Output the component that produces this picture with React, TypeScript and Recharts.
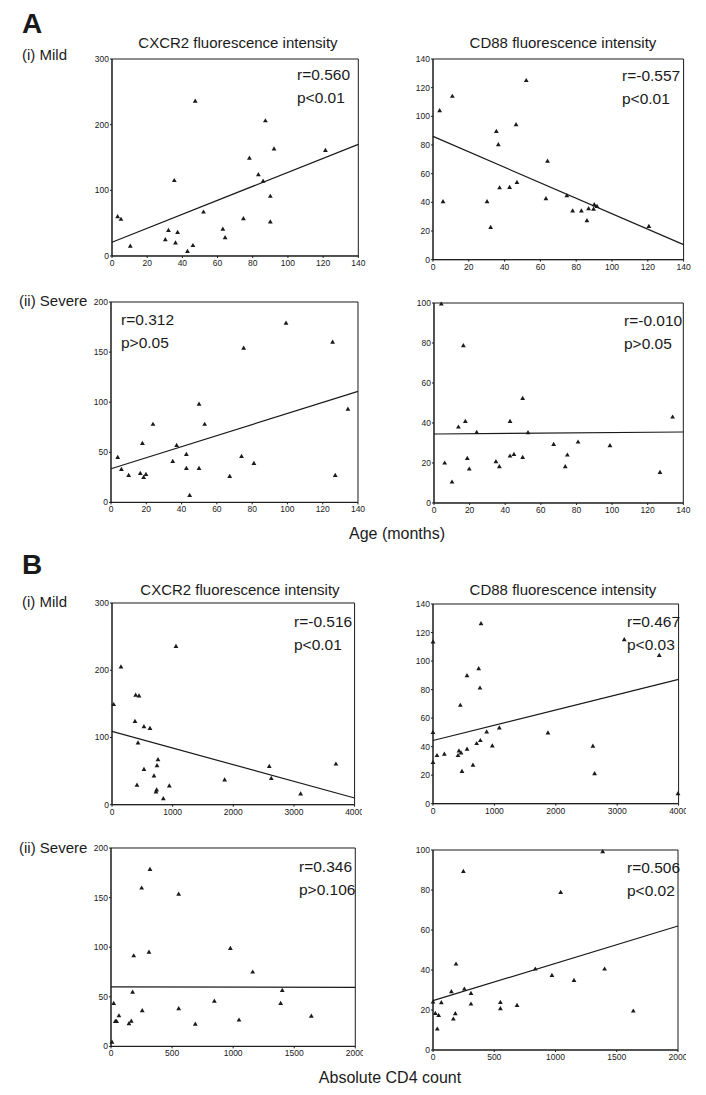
import React from 'react';
import { ScatterChart, Scatter, XAxis, YAxis, ReferenceArea, ReferenceLine } from 'recharts';

// tick labels
const AGE_TICKS = [0, 20, 40, 60, 80, 100, 120, 140];
const CD4_MILD_TICKS = [0, 1000, 2000, 3000, 4000];
const CD4_SEVERE_TICKS = [0, 500, 1000, 1500, 2000];
const CXCR2_MILD_TICKS = [0, 100, 200, 300];
const CXCR2_SEVERE_TICKS = [0, 50, 100, 150, 200];
const CD88_MILD_TICKS = [0, 20, 40, 60, 80, 100, 120, 140];
const CD88_SEVERE_TICKS = [0, 20, 40, 60, 80, 100];

// A (i) mild, age vs CXCR2
const ageMildCxcr2Age = [3.2, 5.1, 10.4, 30.3, 32.1, 35.4, 36.1, 37.3, 42.9, 46, 47.3, 52, 63, 64.3, 74.7, 78.1, 83.2, 85.9, 87.2, 90, 90, 92.1, 121.3];
const ageMildCxcr2Val = [60, 56, 15, 25, 39, 115, 20, 36, 7, 16, 236, 67, 41, 28, 57, 149, 124, 114, 206, 91, 52, 163, 161];
const ageMildCxcr2Fit = [21, 170];

// A (i) mild, age vs CD88
const ageMildCd88Age = [3.7, 5.6, 10.8, 30.2, 32.2, 35.4, 36.5, 37.2, 42.8, 46.4, 46.9, 52.1, 63.1, 64, 74.8, 78, 82.9, 86, 86.9, 89.7, 90.1, 91.6, 120.6];
const ageMildCd88Val = [104, 40.5, 114, 40.5, 22.6, 89.5, 80.2, 50.2, 50.5, 94.2, 54, 125, 42.6, 68.8, 44.7, 34, 34, 27.2, 35.6, 35.3, 38.4, 37.2, 23.3];
const ageMildCd88Fit = [86, 10.5];

// A (ii) severe, age vs CXCR2
const ageSevereCxcr2Age = [3.8, 5.9, 10, 16.6, 17.8, 18.5, 19.8, 23.8, 35, 37.2, 42.7, 42.7, 44.6, 49.9, 49.9, 53.1, 67.3, 74, 75.2, 81, 99.2, 125.6, 127.1, 134.3];
const ageSevereCxcr2Val = [45, 33, 27, 29, 59, 25, 28, 78, 41, 57, 48, 34, 7, 98, 34, 78, 26, 46, 154, 39, 179, 160, 27, 93];
const ageSevereCxcr2Fit = [33.6, 110.8];

// A (ii) severe, age vs CD88
const ageSevereCd88Age = [4.1, 6, 10.1, 13.7, 16.5, 17.6, 18.7, 19.8, 24, 34.8, 36.7, 42.7, 42.7, 44.9, 49.8, 49.8, 52.8, 67.2, 73.7, 74.9, 80.9, 98.8, 126.9, 134];
const ageSevereCd88Val = [99.5, 20, 10.5, 38, 78.7, 40.8, 22.3, 17, 35.3, 20.7, 18.2, 40.8, 23.5, 24.3, 52.3, 22.8, 35.2, 29.3, 18.2, 24, 30.5, 28.7, 15.3, 43];
const ageSevereCd88Fit = [34.5, 35.5];

// B (i) mild, CD4 count vs CXCR2
const cd4MildCxcr2Count = [27, 148, 379, 390, 445, 412, 429, 527, 527, 626, 692, 725, 736, 742, 758, 846, 945, 1055, 1857, 2593, 2626, 3110, 3692];
const cd4MildCxcr2Val = [149, 205, 124, 163, 162, 29, 92, 116, 52.5, 113.5, 43, 19, 22, 58, 67, 9, 28, 235.5, 37, 57, 39, 16, 60.5];
const cd4MildCxcr2Fit = [109, 10];

// B (i) mild, CD4 count vs CD88
const cd4MildCd88Count = [0, 0, 0, 65, 185, 407, 423, 456, 445, 472, 554, 554, 651, 711, 744, 765, 771, 782, 874, 966, 1080, 1872, 2605, 2632, 3115, 3685, 3990];
const cd4MildCd88Val = [113.5, 50, 29, 33.8, 34.7, 33.8, 37, 35.6, 69, 22.7, 89.8, 38.2, 27, 42.2, 94.7, 81.1, 44.3, 126.2, 50.4, 40.6, 53.2, 49.7, 40.3, 21.1, 115, 104, 7];
const cd4MildCd88Fit = [44.3, 87.2];

// B (ii) severe, CD4 count vs CXCR2
const cd4SevereCxcr2Count = [8, 22, 35, 46, 65, 147, 166, 177, 186, 251, 256, 311, 319, 554, 554, 690, 846, 977, 1048, 1160, 1389, 1402, 1640];
const cd4SevereCxcr2Val = [4.4, 43.4, 25.2, 25.2, 30.9, 22.9, 25.5, 54.8, 91.4, 159.7, 36, 95, 178.5, 153.6, 38, 22.5, 45.7, 98.8, 26.6, 75, 43.4, 56.5, 30.6];
const cd4SevereCxcr2Fit = [60, 59.5];

// B (ii) severe, CD4 count vs CD88
const cd4SevereCd88Count = [0, 19, 35, 46, 68, 150, 166, 182, 188, 248, 256, 310, 310, 550, 550, 686, 835, 971, 1042, 1151, 1385, 1401, 1635];
const cd4SevereCd88Val = [24, 18.3, 10.5, 17.3, 23.7, 29.2, 15.5, 18.2, 43, 89.3, 30.5, 28.3, 23, 23.8, 20.7, 22.3, 40.5, 37.3, 78.8, 34.8, 99.2, 40.5, 19.5];
const cd4SevereCd88Fit = [24.7, 62];

const FONT = '"Liberation Sans", Arial, Helvetica, sans-serif';
const INK = '#1a1a1a';
const YW = 30;
const MT = 8;
const MR = 8;
const XH = 20;

// small filled triangle marker, like the original SPSS plots
const Tri = (props: any) => {
  const { cx, cy } = props;
  if (cx == null || cy == null) return <g />;
  return <path d={`M${cx},${cy - 2.6}L${cx + 2.4},${cy + 1.6}L${cx - 2.4},${cy + 1.6}Z`} fill={INK} />;
};

type PanelProps = {
  box: [number, number, number, number]; // left, top, right, bottom of plot area
  xs: number[];
  ys: number[];
  xTicks: number[];
  yTicks: number[];
  fit: number[];
  r: string;
  p: string;
  statsAt: [number, number];
};

function Panel({ box, xs, ys, xTicks, yTicks, fit, r, p, statsAt }: PanelProps) {
  const [l, t, rr, b] = box;
  const xMax = xTicks[xTicks.length - 1];
  const yMax = yTicks[yTicks.length - 1];
  const data = xs.map((x, i) => ({ x, y: ys[i] }));
  const tick = { fontSize: 8.5, fill: INK, fontFamily: FONT };
  return (
    <>
      <div style={{ position: 'absolute', left: l - YW, top: t - MT }}>
        <ScatterChart
          width={rr - l + YW + MR}
          height={b - t + MT + XH}
          margin={{ top: MT, right: MR, bottom: 0, left: 0 }}
        >
          <XAxis
            type="number"
            dataKey="x"
            domain={[0, xMax]}
            ticks={xTicks}
            interval={0}
            height={XH}
            tick={tick}
            tickSize={2}
            tickMargin={2}
            stroke={INK}
          />
          <YAxis
            type="number"
            dataKey="y"
            domain={[0, yMax]}
            ticks={yTicks}
            interval={0}
            width={YW}
            tick={tick}
            tickSize={2}
            tickMargin={1}
            stroke={INK}
          />
          <ReferenceArea x1={0} x2={xMax} y1={0} y2={yMax} fill="none" stroke={INK} strokeWidth={1} />
          <ReferenceLine
            segment={[{ x: 0, y: fit[0] }, { x: xMax, y: fit[1] }]}
            stroke={INK}
            strokeWidth={1.2}
          />
          <Scatter data={data} shape={Tri} fill={INK} isAnimationActive={false} />
        </ScatterChart>
      </div>
      <div style={{ ...statStyle, left: statsAt[0], top: statsAt[1] - 9 }}>{r}</div>
      <div style={{ ...statStyle, left: statsAt[0], top: statsAt[1] + 14 }}>{p}</div>
    </>
  );
}

const statStyle: React.CSSProperties = {
  position: 'absolute',
  fontFamily: FONT,
  fontSize: 15.5,
  lineHeight: '18px',
  color: INK,
  whiteSpace: 'nowrap',
};

function Label({ x, y, size, bold, center, children }: { x: number; y: number; size: number; bold?: boolean; center?: boolean; children: React.ReactNode }) {
  return (
    <div
      style={{
        position: 'absolute',
        left: center ? x - 200 : x,
        width: center ? 400 : undefined,
        textAlign: center ? 'center' : 'left',
        top: y - size * 0.6,
        height: size * 1.2,
        lineHeight: `${size * 1.2}px`,
        fontFamily: FONT,
        fontSize: size,
        fontWeight: bold ? 'bold' : 'normal',
        color: INK,
        whiteSpace: 'nowrap',
      }}
    >
      {children}
    </div>
  );
}

export default function App() {
  return (
    <div style={{ position: 'absolute', left: 0, top: 0, width: 706, height: 1095, background: '#fff', overflow: 'hidden' }}>
      <Label x={22} y={24} size={28} bold>A</Label>
      <Label x={22} y={55} size={15}>(i) Mild</Label>
      <Label x={19} y={301} size={15}>(ii) Severe</Label>
      <Label x={238} y={43} size={15} center>CXCR2 fluorescence intensity</Label>
      <Label x={563} y={43} size={15} center>CD88 fluorescence intensity</Label>
      <Label x={397} y={534} size={16} center>Age (months)</Label>

      <Panel box={[111.7, 58.7, 358, 255.7]} xs={ageMildCxcr2Age} ys={ageMildCxcr2Val} xTicks={AGE_TICKS} yTicks={CXCR2_MILD_TICKS} fit={ageMildCxcr2Fit} r="r=0.560" p="p<0.01" statsAt={[297, 75]} />
      <Panel box={[432.7, 59.3, 683.3, 260]} xs={ageMildCd88Age} ys={ageMildCd88Val} xTicks={AGE_TICKS} yTicks={CD88_MILD_TICKS} fit={ageMildCd88Fit} r="r=-0.557" p="p<0.01" statsAt={[622, 76]} />
      <Panel box={[110.7, 302.3, 357.7, 502.7]} xs={ageSevereCxcr2Age} ys={ageSevereCxcr2Val} xTicks={AGE_TICKS} yTicks={CXCR2_SEVERE_TICKS} fit={ageSevereCxcr2Fit} r="r=0.312" p="p>0.05" statsAt={[121, 320]} />
      <Panel box={[434, 302.7, 683.3, 502.7]} xs={ageSevereCd88Age} ys={ageSevereCd88Val} xTicks={AGE_TICKS} yTicks={CD88_SEVERE_TICKS} fit={ageSevereCd88Fit} r="r=-0.010" p="p>0.05" statsAt={[624, 321]} />

      <Label x={22} y={565} size={28} bold>B</Label>
      <Label x={22} y={602} size={15}>(i) Mild</Label>
      <Label x={19} y={848} size={15}>(ii) Severe</Label>
      <Label x={240} y={590} size={15} center>CXCR2 fluorescence intensity</Label>
      <Label x={563} y={590} size={15} center>CD88 fluorescence intensity</Label>
      <Label x={390} y={1078} size={16} center>Absolute CD4 count</Label>

      <Panel box={[111.7, 603.3, 354.3, 805]} xs={cd4MildCxcr2Count} ys={cd4MildCxcr2Val} xTicks={CD4_MILD_TICKS} yTicks={CXCR2_MILD_TICKS} fit={cd4MildCxcr2Fit} r="r=-0.516" p="p<0.01" statsAt={[294, 622]} />
      <Panel box={[432.7, 604.3, 678.3, 804]} xs={cd4MildCd88Count} ys={cd4MildCd88Val} xTicks={CD4_MILD_TICKS} yTicks={CD88_MILD_TICKS} fit={cd4MildCd88Fit} r="r=0.467" p="p<0.03" statsAt={[627, 622]} />
      <Panel box={[110.7, 848.3, 355, 1046.7]} xs={cd4SevereCxcr2Count} ys={cd4SevereCxcr2Val} xTicks={CD4_SEVERE_TICKS} yTicks={CXCR2_SEVERE_TICKS} fit={cd4SevereCxcr2Fit} r="r=0.346" p="p>0.106" statsAt={[299, 867]} />
      <Panel box={[433.3, 850, 678.3, 1050]} xs={cd4SevereCd88Count} ys={cd4SevereCd88Val} xTicks={CD4_SEVERE_TICKS} yTicks={CD88_SEVERE_TICKS} fit={cd4SevereCd88Fit} r="r=0.506" p="p<0.02" statsAt={[627, 868]} />
    </div>
  );
}
